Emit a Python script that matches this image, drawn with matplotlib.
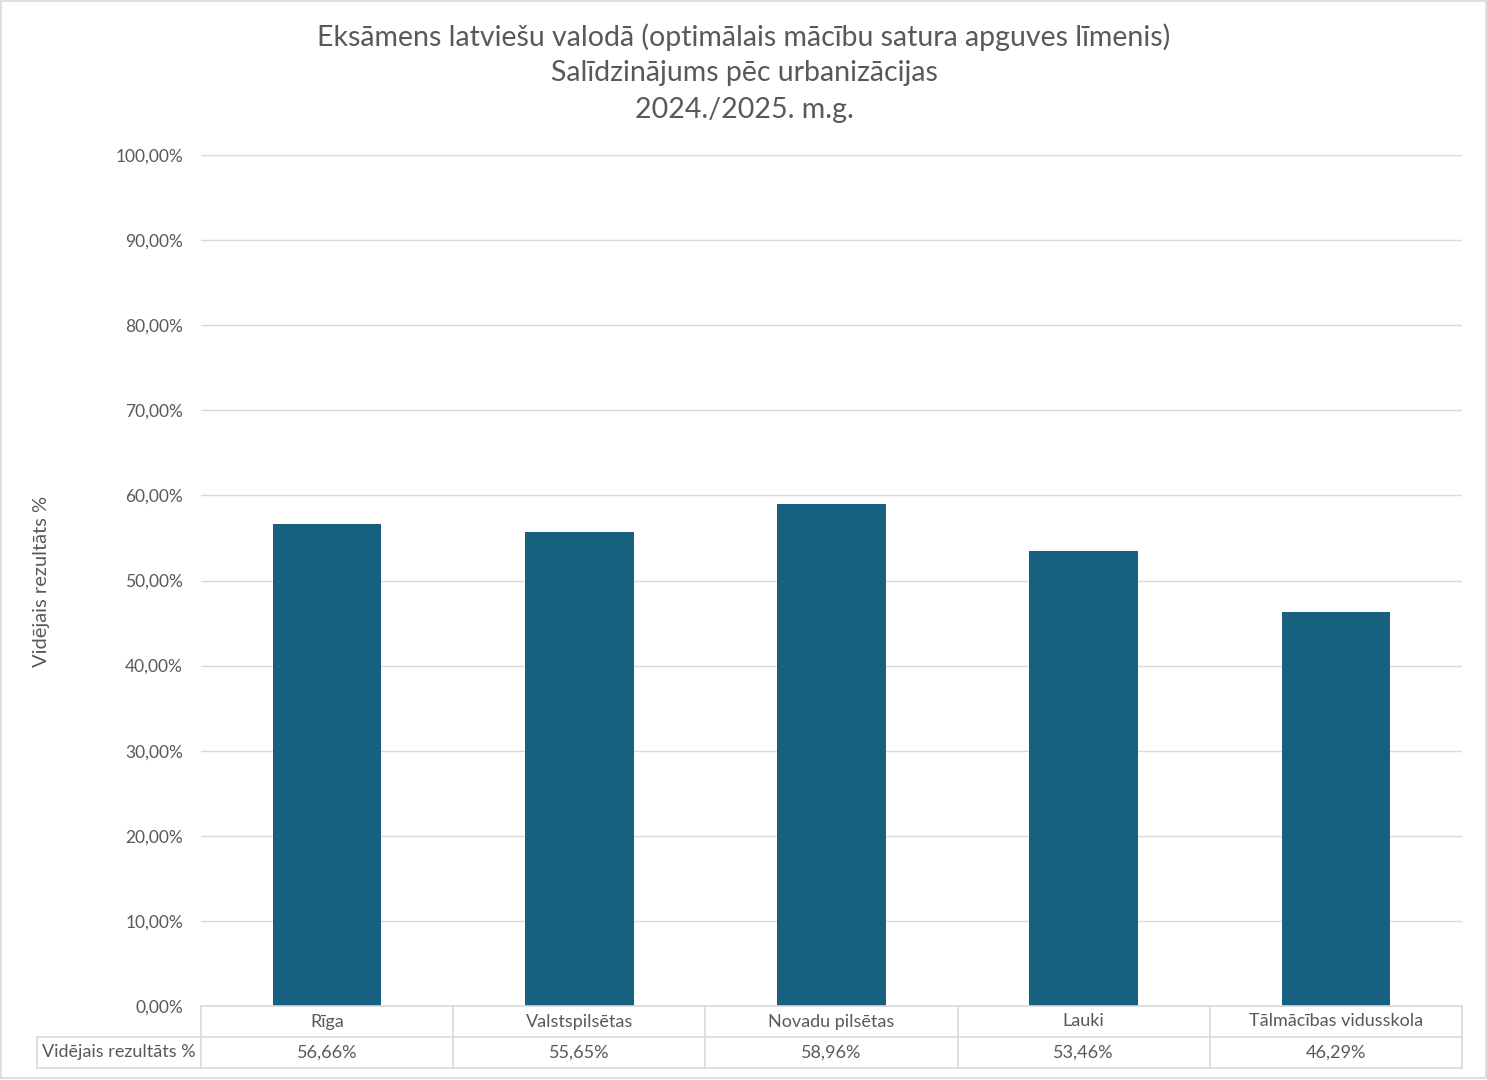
import matplotlib
matplotlib.use("Agg")
import matplotlib.pyplot as plt
from matplotlib.lines import Line2D

categories = ["Rīga", "Valstspilsētas", "Novadu pilsētas", "Lauki", "Tālmācības vidusskola"]
values = [56.66, 55.65, 58.96, 53.46, 46.29]
series_name = "Vidējais rezultāts %"
title_lines = ["Eksāmens latviešu valodā (optimālais mācību satura apguves līmenis)",
               "Salīdzinājums pēc urbanizācijas",
               "2024./2025. m.g."]
yticks = list(range(0, 101, 10))

plt.rcParams['font.family'] = ['Lato', 'DejaVu Sans']
TXT = "#595959"
GRID = "#D9D9D9"
BAR = "#17607F"

W, H = 1487, 1080
fig = plt.figure(figsize=(W / 100, H / 100), dpi=100)

def fx(px):
    return px / W
def fy(py):
    return 1 - py / H

L, R, T, B = 201, 1462, 155, 1006
ax = fig.add_axes([fx(L), fy(B), fx(R - L), (B - T) / H])
x = list(range(len(categories)))
ax.bar(x, values, width=0.43, color=BAR, zorder=3)
ax.set_xlim(-0.5, len(categories) - 0.5)
ax.set_ylim(0, 100)
ax.set_yticks(yticks)
ax.set_yticklabels([f"{v:.2f}".replace(".", ",") + "%" for v in yticks], color=TXT, fontsize=12.5)
ax.tick_params(axis='y', length=0, pad=13)
ax.set_xticks([])
ax.grid(axis='y', color=GRID, linewidth=1, zorder=0)
for s in ax.spines.values():
    s.set_visible(False)

# Title
title_y = [37, 73, 110]
for t, yy in zip(title_lines, title_y):
    fig.text(fx(744), fy(yy), t, ha='center', va='center', fontsize=20.5, color=TXT)

# Y label
fig.text(fx(42), fy(581), series_name, rotation=90, ha='center', va='center', fontsize=14.5, color=TXT)

# Data table
row1_top, row1_bot, row2_bot = 1006, 1037, 1068
tl = 37
colw = (R - L) / len(categories)
def hline(y0, x0, x1):
    fig.add_artist(Line2D([fx(x0), fx(x1)], [fy(y0), fy(y0)], color=GRID, linewidth=1.2))
def vline(xx, y0, y1):
    fig.add_artist(Line2D([fx(xx), fx(xx)], [fy(y0), fy(y1)], color=GRID, linewidth=1.2))

hline(row1_top, L, R)
hline(row1_bot, tl, R)
hline(row2_bot, tl, R)
vline(tl, row1_bot, row2_bot)
for i in range(len(categories) + 1):
    vline(L + i * colw, row1_top, row2_bot)

for i, (c, v) in enumerate(zip(categories, values)):
    cx = L + (i + 0.5) * colw
    fig.text(fx(cx), fy((row1_top + row1_bot) / 2), c, ha='center', va='center', fontsize=13, color=TXT)
    fig.text(fx(cx), fy((row1_bot + row2_bot) / 2), f"{v:.2f}".replace(".", ",") + "%",
             ha='center', va='center', fontsize=13, color=TXT)
fig.text(fx(tl + 5), fy((row1_bot + row2_bot) / 2), series_name, ha='left', va='center', fontsize=13, color=TXT)

# Chart border
fig.add_artist(plt.Rectangle((fx(1), fy(1078)), fx(1485), (1077) / H, fill=False, edgecolor=GRID, linewidth=1.2))

fig.savefig("out.png", dpi=100)
